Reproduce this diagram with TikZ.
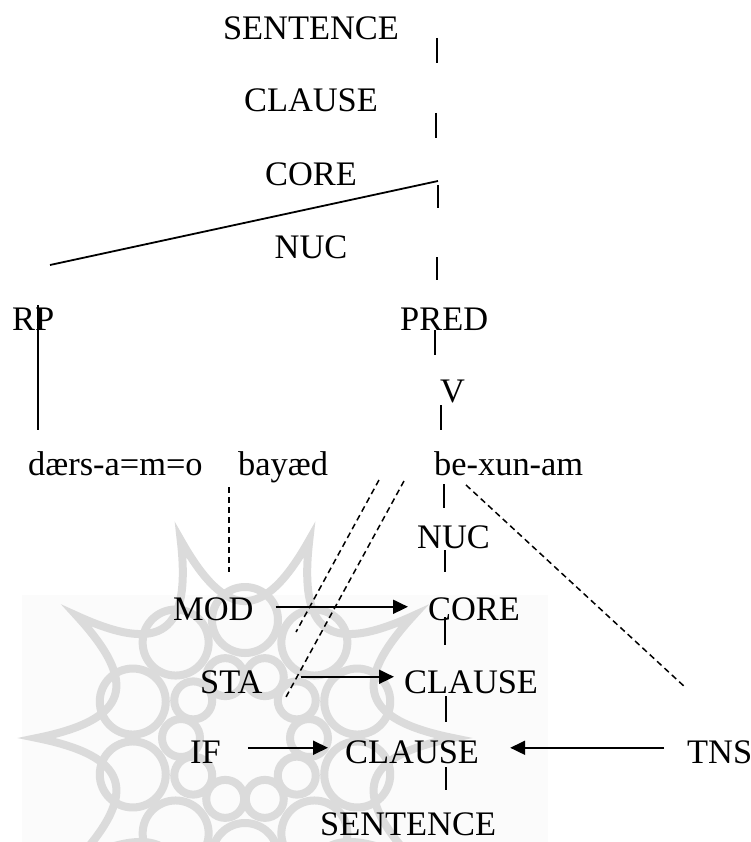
\documentclass[tikz,border=0pt]{standalone}
\usepackage{fontspec}
\setmainfont{Liberation Serif}
\usetikzlibrary{arrows.meta}
\definecolor{wmark}{gray}{0.86}
\definecolor{wbox}{gray}{0.984}
\tikzset{
  lab/.style={inner sep=0pt, anchor=base west, font=\fontsize{34.4}{40}\selectfont},
  labc/.style={lab, anchor=base},
  tick/.style={line width=1.8pt},
  dashline/.style={line width=1.5pt, dash pattern=on 6pt off 4pt},
  arr/.style={line width=1.9pt, -{Triangle[length=15pt,width=14pt]}},
}
\begin{document}
\begin{tikzpicture}[x=1pt,y=-1pt]
\useasboundingbox (0,0) rectangle (751,842);

% faint ornamental rosette behind the lower part
\begin{scope}
  \clip (0,0) rectangle (751,842);
  \fill[wbox] (22,595) rectangle (548,842);
  \begin{scope}[shift={(245,738)}, draw=wmark, line width=8pt, miter limit=30]
    % concave star with long horns
    \draw (0:208) \foreach \a in {0,36,...,324} {
        .. controls (\a+9:118) and (\a+27:118) .. (\a+36:208) } -- cycle;
    % outer ring of loops
    \foreach \a in {18,54,...,342} { \draw (\a:118) circle (33); }
    % inner ring of loops
    \foreach \a in {0,36,...,324} { \draw (\a:64) circle (19); }
  \end{scope}
\end{scope}

% upper spine of the tree
\node[labc] (sen1) at (311,40)  {SENTENCE};
\node[labc] (cla1) at (311,112) {CLAUSE};
\node[labc] (cor1) at (311,186) {CORE};
\node[labc] (nuc1) at (311,258) {NUC};
\node[lab]  (rp)   at (12,330)  {RP};
\node[lab]  (pred) at (400,330) {PRED};
\node[lab]  (v)    at (440,402) {V};

% words
\node[lab] (w1) at (28,475)  {dærs-a=m=o};
\node[lab] (w2) at (238,475) {bayæd};
\node[lab] (w3) at (434,475) {be-xun-am};

% operator projection
\node[lab] (nuc2) at (417,548) {NUC};
\node[lab] (mod)  at (173,620) {MOD};
\node[lab] (cor2) at (428,620) {CORE};
\node[lab] (sta)  at (200,693) {STA};
\node[lab] (cla2) at (404,693) {CLAUSE};
\node[lab] (if)   at (190,763) {IF};
\node[lab] (cla3) at (345,763) {CLAUSE};
\node[lab] (tns)  at (687,763) {TNS};
\node[lab] (sen2) at (320,835) {SENTENCE};

% tick ends
\coordinate (a1) at (437,38);  \coordinate (b1) at (437,63);
\coordinate (a2) at (436,113); \coordinate (b2) at (436,138);
\coordinate (a3) at (438,185); \coordinate (b3) at (438,208);
\coordinate (a4) at (437,257); \coordinate (b4) at (437,280);
\coordinate (a5) at (435,330); \coordinate (b5) at (435,355);
\coordinate (a6) at (441,405); \coordinate (b6) at (441,430);
\coordinate (a7) at (444,484); \coordinate (b7) at (444,508);
\coordinate (a8) at (445,550); \coordinate (b8) at (445,572);
\coordinate (a9) at (445,617); \coordinate (b9) at (445,645);
\coordinate (a10) at (446,696); \coordinate (b10) at (446,722);
\coordinate (a11) at (446,767); \coordinate (b11) at (446,790);
\coordinate (coreTop) at (438,181); \coordinate (coreLeft) at (50,265);
\coordinate (rpTop) at (38,305); \coordinate (rpBot) at (38,430);

\foreach \i in {1,...,11} { \draw[tick] (a\i) -- (b\i); }
\draw[tick] (coreTop) -- (coreLeft);
\draw[tick] (rpTop) -- (rpBot);

% dashed operator links
\coordinate (d1a) at (229,487); \coordinate (d1b) at (229,572);
\coordinate (d2a) at (379,480); \coordinate (d2b) at (296,632);
\coordinate (d3a) at (404,481); \coordinate (d3b) at (286,697);
\coordinate (d4a) at (466,485); \coordinate (d4b) at (686,688);
\draw[dashline] (d1a) -- (d1b);
\draw[dashline] (d2a) -- (d2b);
\draw[dashline] (d3a) -- (d3b);
\draw[dashline] (d4a) -- (d4b);

% operator arrows
\draw[arr, shorten <=22pt, shorten >=20pt] ([yshift=2pt]mod.east) -- ([yshift=2pt]mod.east -| cor2.west);
\draw[arr, shorten <=38pt, shorten >=10pt] ([yshift=5pt]sta.east) -- ([yshift=5pt]sta.east -| cla2.west);
\draw[arr, shorten <=27pt, shorten >=17pt] ([yshift=4pt]if.east) -- ([yshift=4pt]if.east -| cla3.west);
\draw[arr, shorten <=23pt, shorten >=31pt] ([yshift=4pt]tns.west) -- ([yshift=4pt]tns.west -| cla3.east);
\end{tikzpicture}
\end{document}
